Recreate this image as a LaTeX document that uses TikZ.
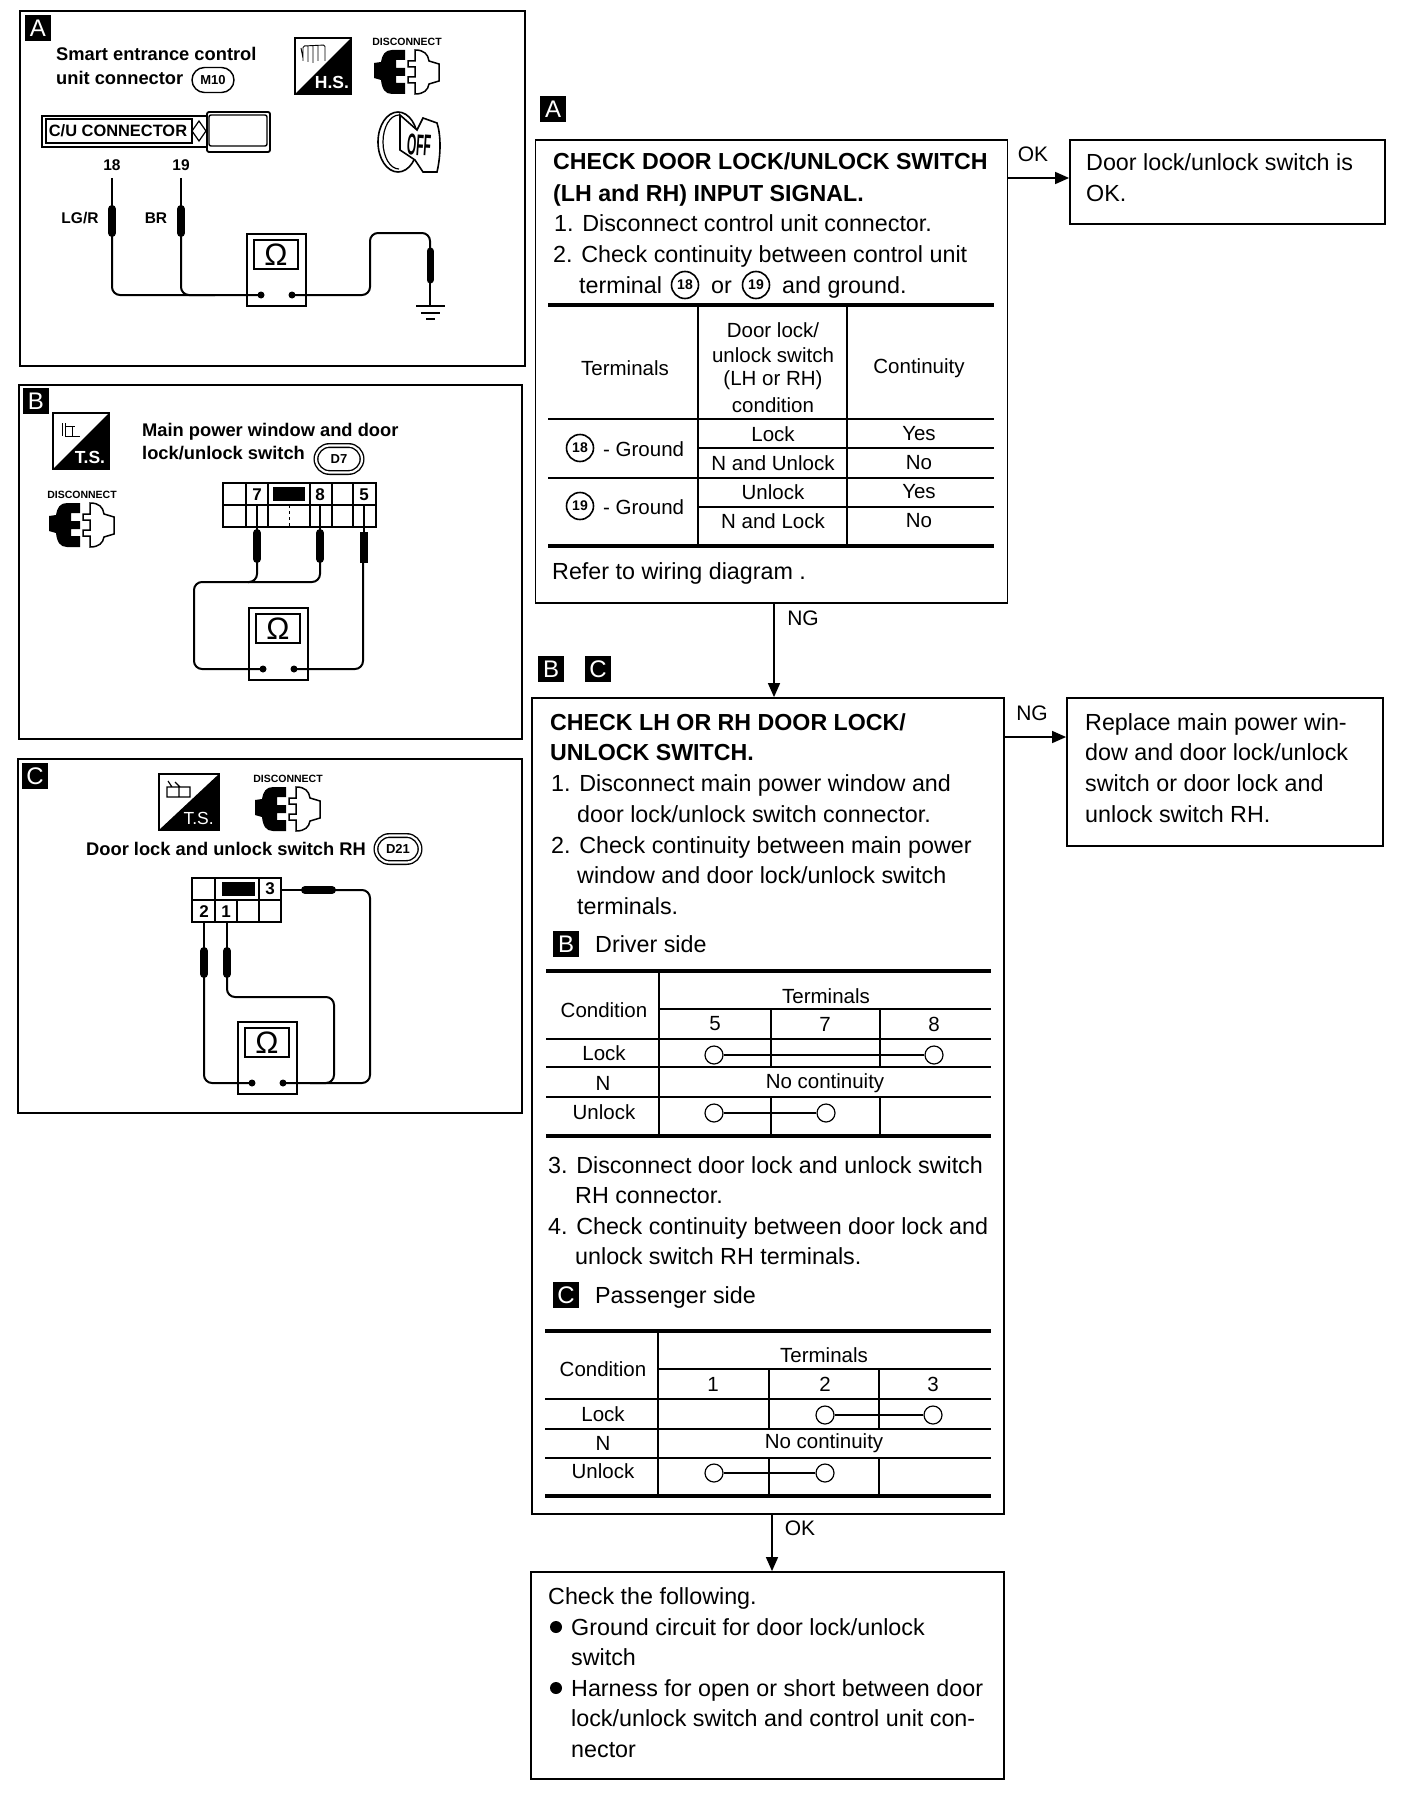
\documentclass[tikz,border=0pt]{standalone}
\usepackage{fontspec}
\setmainfont{Liberation Sans}
\usepackage{tikz}
\usetikzlibrary{arrows.meta,shapes.misc,calc}

\tikzset{
  txt/.style={font=\fontsize{23.3}{26}\selectfont,anchor=base west,inner sep=0pt},
  ctxt/.style={font=\fontsize{20.5}{24}\selectfont,anchor=center,inner sep=0pt},
  titletxt/.style={font=\fontsize{23.2}{26}\bfseries\selectfont,anchor=base west,inner sep=0pt},
  paneltxt/.style={font=\fontsize{18.3}{22}\bfseries\selectfont,anchor=base west,inner sep=0pt},
  smalltxt/.style={font=\fontsize{15.5}{20}\bfseries\selectfont,anchor=center,inner sep=0pt},
  pintxt/.style={font=\fontsize{17}{20}\bfseries\selectfont,anchor=center,inner sep=0pt},
  badge/.style={fill=black,text=white,inner sep=0pt,minimum size=26pt,font=\fontsize{24}{26}\selectfont},
  circnum/.style={draw,circle,line width=1.6pt,inner sep=0pt,minimum size=27pt,font=\fontsize{14}{16}\bfseries\selectfont},
  pill/.style={draw,rounded rectangle,line width=1.4pt,inner sep=0pt,minimum height=25pt,minimum width=42pt,font=\fontsize{13}{15}\bfseries\selectfont},
  pilltwo/.style={pill,double,double distance=2.2pt,minimum height=27pt,minimum width=44pt},
  frame/.style={line width=1.8pt},
  flowbox/.style={draw,line width=1.8pt,inner sep=0pt},
  flowarrow/.style={line width=1.5pt,-{Triangle[length=14pt,width=12pt]}},
  heavy/.style={line width=3.5pt},
  medium/.style={line width=2.2pt},
  thin rule/.style={line width=1.6pt},
  wire/.style={line width=2pt,rounded corners=8pt},
  probetip/.style={line width=1.5pt},
  probe/.style={line width=8pt,line cap=round},
  contact/.style={draw,circle,fill=white,line width=1.2pt,inner sep=0pt,minimum size=18pt},
  meter/.pic={
    \draw[line width=1.6pt] (0,0) rectangle (59,72);
    \draw[line width=1.6pt] (7,6) rectangle (51,35);
    \node[inner sep=0pt,font=\fontsize{31}{31}\selectfont] (-om) at (29,21) {Ω};
    \coordinate (-lead) at (14,61);
    \coordinate (-ret) at (45,61);
    \fill (-lead) circle (3.5);
    \fill (-ret) circle (3.5);
  },
  service/.pic={
    \draw[line width=1.4pt] (0,0) rectangle (56,56);
    \fill (56,0) -- (56,56) -- (0,56) -- cycle;
    \node[text=white,inner sep=0pt,font=\fontsize{17.5}{18}\selectfont] (-lb) at (37,44) {#1};
  },
  unplug/.pic={
    \node[inner sep=0pt,font=\fontsize{10.5}{12}\bfseries\selectfont] (-lb) at (33,-8) {DISCONNECT};
    % plug half
    \fill (31,0) -- (18,0) .. controls (11,0) and (8,5) .. (7,12) -- (0,13) -- (0,28) -- (7,30)
      .. controls (8,39) and (11,44) .. (18,44) -- (31,44) -- (31,33) -- (22,33) -- (22,26) -- (31,26)
      -- (31,18) -- (22,18) -- (22,10) -- (31,10) -- cycle;
    % socket half
    \draw[line width=1.5pt,fill=white] (41,0) .. controls (50,0) and (54,4) .. (55,11) -- (65,14) -- (65,31) -- (55,34)
      .. controls (54,40) and (50,44) .. (41,44) -- (41,33) -- (34,33) -- (34,27) -- (41,27)
      -- (41,17) -- (34,17) -- (34,11) -- (41,11) -- cycle;
  },
}

\begin{document}
\begin{tikzpicture}[x=1pt,y=-1pt]
    \useasboundingbox (0,0) rectangle (1408,1798);

    % Panel A
    \draw[frame] (20,11) rectangle (525,366);
    \node[badge] (pa) at (38,28) {A};
    \node[paneltxt] (pa1) at (56,61) {Smart entrance control};
    \node[paneltxt] (pa2) at (56,85) {unit connector};
    \node[pill] (m10) at (213,80) {M10};
    \pic (hs) at (295,38) {service={\bfseries H.S.}};
    \draw[line width=0.9pt,rounded corners=1.5pt] (303,61) -- (303,46) -- (325,45) -- (325,61) (308,46) -- (308,62) (313,46) -- (313,63) (318,46) -- (318,61) (301,48) -- (303,58);
    \pic (dca) at (374,50) {unplug};

    % C/U connector and key
    \draw[line width=1.6pt] (42,116) rectangle (208,147);
    \draw[line width=1.2pt] (46,119) rectangle (192,143);
    \node[inner sep=0pt,font=\fontsize{16.4}{20}\bfseries\selectfont] (cu) at (118,131) {C/U CONNECTOR};
    \draw[line width=1.2pt] (199,121) -- (206,131) -- (199,141) -- (192,131) -- cycle;
    \draw[line width=1.8pt,rounded corners=2pt,fill=white] (207,112) rectangle (270,152);
    \draw[line width=1.4pt,rounded corners=2pt] (209,115) rectangle (267,146);
    \draw[line width=1.6pt] (398,142) ellipse (20 and 30);
    \draw[line width=1.2pt] (399,169) arc (90:270:16 and 27);
    \draw[line width=1.6pt,fill=white] (400,115) -- (417,130) -- (423,118) -- (437,123) .. controls (441,135) and (441,155) .. (437,172)
      -- (423,172) -- (415,160) -- (400,150) -- cycle;
    \node[inner sep=0pt,rotate=-4,font=\fontsize{30}{30}\bfseries\selectfont,xscale=0.4] (off) at (419,145) {OFF};

    % Probes and wires A
    \node[smalltxt] (t18) at (112,165) {18};
    \node[smalltxt] (t19) at (181,165) {19};
    \node[smalltxt] (lgr) at (80,218) {LG/R};
    \node[smalltxt] (br) at (156,218) {BR};
    \pic (ma) at (247,234) {meter};
    \draw[probetip] (112,178) -- (112,208);
    \draw[probe] (112,209) -- (112,233);
    \draw[probetip] (181,178) -- (181,208);
    \draw[probe] (181,209) -- (181,233);
    \draw[wire] (112,236) -- (112,295) -- (ma-lead);
    \draw[wire] (181,236) -- (181,295) -- (215,295);
    \draw[wire] (ma-ret) -- (370,295) -- (370,233) -- (430,233) -- (430,252);
    \draw[probe,line width=7pt] (430,251) -- (430,280);
    \draw[probetip] (430,283) -- (430,306);
    \draw[line width=2pt] (416,306) -- (445,306);
    \draw[line width=1.8pt] (421,313) -- (440,313);
    \draw[line width=1.8pt] (426,319) -- (435,319);

    % Panel B
    \draw[frame] (19,385) rectangle (522,739);
    \node[badge] (pb) at (36,401) {B};
    \pic (tsb) at (53,413) {service={\bfseries T.S.}};
    \draw[line width=1pt] (62,423) -- (62,436) (65,423) -- (65,436) -- (80,436) (65,426) -- (75,426) (72,426) -- (72,436);
    \pic (dcb) at (49,503) {unplug};
    \node[paneltxt] (pb1) at (142,436) {Main power window and door};
    \node[paneltxt] (pb2) at (142,459) {lock/unlock switch};
    \node[pilltwo,minimum width=46pt] (d7) at (339,459) {D7};

    % Connector B
    \draw[line width=1.8pt] (223,483) rectangle (376,527);
    \draw[line width=1.8pt] (223,505) -- (376,505);
    \draw[line width=1.4pt] (246,483) -- (246,527) (268,483) -- (268,527) (310,483) -- (310,527)
      (332,483) -- (332,527) (353,483) -- (353,527);
    \draw[line width=1pt,dashed] (289,505) -- (289,527);
    \fill (273,487) rectangle (305,501);
    \node[pintxt] (p7) at (257,495) {7};
    \node[pintxt] (p8) at (320,495) {8};
    \node[pintxt] (p5) at (364,495) {5};
    \pic (mb) at (249,608) {meter};
    \draw[probetip] (257,505) -- (257,532);
    \draw[probe] (257,533) -- (257,559);
    \draw[probetip] (320,505) -- (320,532);
    \draw[probe] (320,533) -- (320,559);
    \draw[probetip] (364,505) -- (364,532);
    \draw[probe,line cap=butt] (364,532) -- (364,563);
    \draw[wire] (320,562) -- (320,582) -- (194,582) -- (194,669) -- (mb-lead);
    \draw[wire] (257,562) -- (257,582) -- (248,582);
    \draw[wire] (mb-ret) -- (363,669) -- (363,563);

    % Panel C
    \draw[frame] (18,759) rectangle (522,1113);
    \node[badge] (pc) at (35,776) {C};
    \pic[xscale=1.07] (tsc) at (159,774) {service={T.S.}};
    \draw[line width=1.2pt] (167,787) rectangle (179,797) (179,787) rectangle (190,797) (168,781) -- (172,787) (175,782) -- (180,787);
    \pic (dcc) at (255,787) {unplug};
    \node[paneltxt] (pc1) at (86,855) {Door lock and unlock switch RH};
    \node[pilltwo] (d21) at (398,849) {D21};

    % Connector C
    \draw[line width=1.8pt] (192,878) rectangle (281,922);
    \draw[line width=1.8pt] (192,900) -- (281,900);
    \draw[line width=1.4pt] (215,878) -- (215,922) (259,878) -- (259,922) (237,900) -- (237,922);
    \fill (222,882) rectangle (255,896);
    \node[pintxt] (p3) at (270,889) {3};
    \node[pintxt] (p2) at (204,912) {2};
    \node[pintxt] (p1) at (226,912) {1};
    \pic (mc) at (238,1022) {meter};
    \draw[probetip] (204,922) -- (204,950);
    \draw[probe] (204,951) -- (204,974);
    \draw[probetip] (227,922) -- (227,950);
    \draw[probe] (227,951) -- (227,974);
    \draw[probetip] (281,890) -- (304,890);
    \draw[probe] (305,890) -- (332,890);
    \draw[wire] (335,890) -- (370,890) -- (370,1083) -- (mc-ret);
    \draw[wire] (227,977) -- (227,997) -- (334,997) -- (334,1083) -- (310,1083);
    \draw[wire] (204,977) -- (204,1083) -- (mc-lead);

    % First check box
    \node[badge] (ba) at (553,109) {A};
    \node[flowbox,minimum width=472pt,minimum height=463pt] (chka) at (771.5,371.5) {};
    \node[titletxt] (a1) at (553,170) {CHECK DOOR LOCK/UNLOCK SWITCH};
    \node[titletxt] (a2) at (553,201) {(LH and RH) INPUT SIGNAL.};
    \node[txt] (a3) at (554,231) {1. Disconnect control unit connector.};
    \node[txt] (a4) at (553,262) {2. Check continuity between control unit};
    \node[txt] (a5) at (579,293) {terminal};
    \node[circnum] (a6) at (685,285) {18};
    \node[txt] (a7) at (711,293) {or};
    \node[circnum] (a8) at (756,285) {19};
    \node[txt] (a9) at (782,293) {and ground.};
    \node[txt] (a10) at (552,579) {Refer to wiring diagram .};

    % Table of first check box
    \draw[heavy] (548,305) -- (994,305);
    \draw[medium] (548,419) -- (994,419);
    \draw[thin rule] (698,448) -- (994,448);
    \draw[medium] (548,478) -- (994,478);
    \draw[thin rule] (698,507) -- (994,507);
    \draw[heavy] (548,546) -- (994,546);
    \draw[thin rule] (698,305) -- (698,546);
    \draw[thin rule] (847,305) -- (847,546);
    \node[ctxt] (h1) at (625,368) {Terminals};
    \node[ctxt] (h2a) at (773,330) {Door lock/};
    \node[ctxt] (h2b) at (773,355) {unlock switch};
    \node[ctxt] (h2c) at (773,380) {(LH or RH)};
    \node[ctxt] (h2d) at (773,405) {condition};
    \node[ctxt] (h3) at (919,368) {Continuity};
    \node[circnum] (r18) at (580,448) {18};
    \node[ctxt,anchor=west] (r18g) at (603,449) {- Ground};
    \node[circnum] (r19) at (580,506) {19};
    \node[ctxt,anchor=west] (r19g) at (603,507) {- Ground};
    \node[ctxt] (c1) at (773,434) {Lock};
    \node[ctxt] (c2) at (773,463) {N and Unlock};
    \node[ctxt] (c3) at (773,492) {Unlock};
    \node[ctxt] (c4) at (773,521) {N and Lock};
    \node[ctxt] (v1) at (919,434) {Yes};
    \node[ctxt] (v2) at (919,463) {No};
    \node[ctxt] (v3) at (919,492) {Yes};
    \node[ctxt] (v4) at (919,521) {No};

    % OK result of first check
    \node[flowbox,minimum width=315pt,minimum height=84pt] (oka) at (1227.5,182) {};
    \node[txt] (oka1) at (1086,171) {Door lock/unlock switch is};
    \node[txt] (oka2) at (1086,201) {OK.};
    \draw[flowarrow] (chka.east |- 0,178) -- ([yshift=4pt]oka.west);
    \node[ctxt,font=\fontsize{21}{24}\selectfont] (oklb) at (1033,154) {OK};

    % Second check box
    \node[badge] (bb) at (551,669) {B};
    \node[badge] (bc) at (598,669) {C};
    \node[flowbox,minimum width=472pt,minimum height=816pt] (chkb) at (768,1106) {};
    \draw[flowarrow] (chka.south -| chkb.north) ++(6,0) coordinate (nga) -- (nga |- chkb.north);
    \node[ctxt,font=\fontsize{21}{24}\selectfont] (nglb) at (803,618) {NG};
    \node[titletxt] (b1) at (550,730) {CHECK LH OR RH DOOR LOCK/};
    \node[titletxt] (b2) at (550,760) {UNLOCK SWITCH.};
    \node[txt] (b3) at (551,791) {1. Disconnect main power window and};
    \node[txt] (b4) at (577,822) {door lock/unlock switch connector.};
    \node[txt] (b5) at (551,853) {2. Check continuity between main power};
    \node[txt] (b6) at (577,883) {window and door lock/unlock switch};
    \node[txt] (b7) at (577,914) {terminals.};
    \node[badge] (bd) at (566,944) {B};
    \node[txt] (b8) at (595,952) {Driver side};

    % Table of driver side
    \draw[heavy] (546,971) -- (991,971);
    \draw[medium] (659,1009) -- (991,1009);
    \draw[thin rule] (546,1039) -- (991,1039);
    \draw[thin rule] (546,1067) -- (991,1067);
    \draw[thin rule] (546,1097) -- (991,1097);
    \draw[heavy] (546,1136) -- (991,1136);
    \draw[medium] (659,971) -- (659,1136);
    \draw[medium] (771,1009) -- (771,1067) (880,1009) -- (880,1067) (771,1097) -- (771,1136) (880,1097) -- (880,1136);
    \node[ctxt] (dcond) at (604,1010) {Condition};
    \node[ctxt] (dterm) at (826,996) {Terminals};
    \node[ctxt] (d5) at (715,1024) {5};
    \node[ctxt] (d7h) at (825,1024) {7};
    \node[ctxt] (d8) at (934,1024) {8};
    \node[ctxt] (dlock) at (604,1053) {Lock};
    \node[ctxt] (dn) at (603,1083) {N};
    \node[ctxt] (dunl) at (604,1112) {Unlock};
    \node[ctxt] (dno) at (825,1083) {No continuity};
    \node[contact] (dl1) at (714,1055) {};
    \node[contact] (dl2) at (934,1055) {};
    \draw[medium] (dl1) -- (dl2);
    \node[contact] (du1) at (714,1113) {};
    \node[contact] (du2) at (826,1113) {};
    \draw[medium] (du1) -- (du2);

    % Passenger side steps
    \node[txt] (b9) at (548,1173) {3. Disconnect door lock and unlock switch};
    \node[txt] (b10) at (575,1203) {RH connector.};
    \node[txt] (b11) at (548,1234) {4. Check continuity between door lock and};
    \node[txt] (b12) at (575,1264) {unlock switch RH terminals.};
    \node[badge] (be) at (566,1295) {C};
    \node[txt] (b13) at (595,1303) {Passenger side};

    % Table of passenger side
    \draw[heavy] (545,1331) -- (991,1331);
    \draw[medium] (658,1369) -- (991,1369);
    \draw[medium] (545,1399) -- (991,1399);
    \draw[thin rule] (545,1429) -- (991,1429);
    \draw[thin rule] (545,1458) -- (991,1458);
    \draw[heavy] (545,1496) -- (991,1496);
    \draw[medium] (658,1331) -- (658,1496);
    \draw[medium] (769,1369) -- (769,1429) (879,1369) -- (879,1429) (769,1458) -- (769,1496) (879,1458) -- (879,1496);
    \node[ctxt] (pcond) at (603,1369) {Condition};
    \node[ctxt] (pterm) at (824,1355) {Terminals};
    \node[ctxt] (p1h) at (713,1384) {1};
    \node[ctxt] (p2h) at (825,1384) {2};
    \node[ctxt] (p3h) at (933,1384) {3};
    \node[ctxt] (plock) at (603,1414) {Lock};
    \node[ctxt] (pn) at (603,1443) {N};
    \node[ctxt] (punl) at (603,1471) {Unlock};
    \node[ctxt] (pno) at (824,1443) {No continuity};
    \node[contact] (pl1) at (825,1415) {};
    \node[contact] (pl2) at (933,1415) {};
    \draw[medium] (pl1) -- (pl2);
    \node[contact] (pu1) at (714,1473) {};
    \node[contact] (pu2) at (825,1473) {};
    \draw[medium] (pu1) -- (pu2);

    % NG result of second check
    \node[flowbox,minimum width=316pt,minimum height=148pt] (ngb) at (1225,772) {};
    \node[txt] (ngb1) at (1085,730) {Replace main power win-};
    \node[txt] (ngb2) at (1085,760) {dow and door lock/unlock};
    \node[txt] (ngb3) at (1085,791) {switch or door lock and};
    \node[txt] (ngb4) at (1085,822) {unlock switch RH.};
    \draw[flowarrow] (chkb.east |- 0,737) -- (ngb.west |- 0,737);
    \node[ctxt,font=\fontsize{21}{24}\selectfont] (nglc) at (1032,713) {NG};

    % OK result of second check
    \node[flowbox,minimum width=473pt,minimum height=207pt] (fin) at (767.5,1675.5) {};
    \draw[flowarrow] (772,1514) coordinate (okb) -- (okb |- fin.north);
    \node[ctxt,font=\fontsize{21}{24}\selectfont] (oklc) at (800,1528) {OK};
    \node[txt] (f1) at (548,1604) {Check the following.};
    \fill (556,1627) circle (6);
    \node[txt] (f2) at (571,1635) {Ground circuit for door lock/unlock};
    \node[txt] (f3) at (571,1665) {switch};
    \fill (556,1688) circle (6);
    \node[txt] (f4) at (571,1696) {Harness for open or short between door};
    \node[txt] (f5) at (571,1726) {lock/unlock switch and control unit con-};
    \node[txt] (f6) at (571,1757) {nector};
\end{tikzpicture}
\end{document}
